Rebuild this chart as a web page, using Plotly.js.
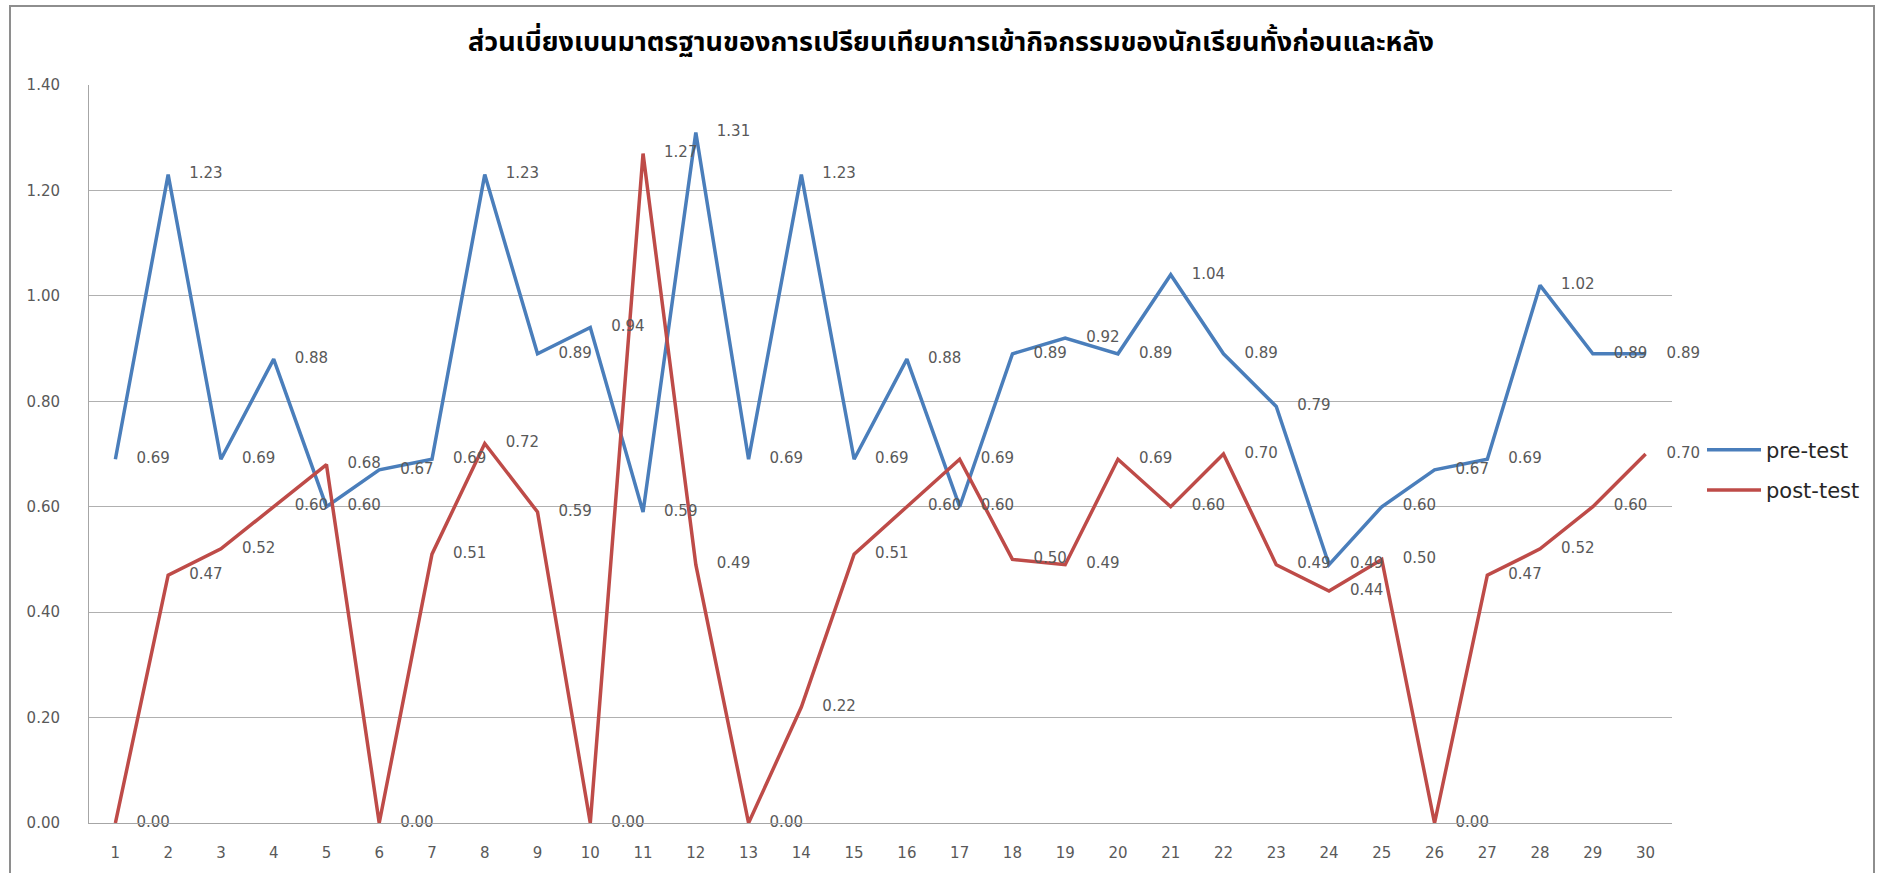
<!DOCTYPE html>
<html>
<head>
<meta charset="utf-8">
<script src="https://cdn.plot.ly/plotly-3.0.1.min.js"></script>
<style>
  html, body { margin: 0; padding: 0; background: #ffffff; overflow: hidden; }
  #chart { position: absolute; left: 0; top: 0; width: 1883px; height: 873px; }
  #frame { position: absolute; left: 9px; top: 5px; width: 1866px; height: 900px;
           border: 2px solid #8e8e8e; box-sizing: border-box; pointer-events: none; }
</style>
</head>
<body>
<div id="chart"></div>
<div id="frame"></div>
<script>
// ---- data ----
const chartTitle = "ส่วนเบี่ยงเบนมาตรฐานของการเปรียบเทียบการเข้ากิจกรรมของนักเรียนทั้งก่อนและหลัง";
const students = [1,2,3,4,5,6,7,8,9,10,11,12,13,14,15,16,17,18,19,20,21,22,23,24,25,26,27,28,29,30];
const preName = "pre-test";
const postName = "post-test";
const preTest = [0.69,1.23,0.69,0.88,0.60,0.67,0.69,1.23,0.89,0.94,
                 0.59,1.31,0.69,1.23,0.69,0.88,0.60,0.89,0.92,0.89,
                 1.04,0.89,0.79,0.49,0.60,0.67,0.69,1.02,0.89,0.89];
const postTest = [0.00,0.47,0.52,0.60,0.68,0.00,0.51,0.72,0.59,0.00,
                  1.27,0.49,0.00,0.22,0.51,0.60,0.69,0.50,0.49,0.69,
                  0.60,0.70,0.49,0.44,0.50,0.00,0.47,0.52,0.60,0.70];
const yTicks = [0,0.2,0.4,0.6,0.8,1.0,1.2,1.4];

// ---- styles ----
const blue = "#4A7EBB";
const red = "#BE4B48";
const labelFont = { family: "DejaVu Sans, Verdana, sans-serif", size: 15, color: "#595959" };

function lineTrace(name, y, color) {
  return {
    type: "scatter", mode: "lines", name: name, legendgroup: name,
    x: students, y: y,
    line: { color: color, width: 3.5 },
    hoverinfo: "skip"
  };
}
function labelTrace(y) {
  return {
    type: "scatter", mode: "markers+text", showlegend: false,
    x: students, y: y,
    marker: { size: 32, color: "rgba(0,0,0,0)", line: { width: 0 } },
    texttemplate: "%{y:.2f}",
    textposition: "middle right",
    textfont: labelFont,
    cliponaxis: false,
    hoverinfo: "skip"
  };
}

const data = [
  lineTrace(preName, preTest, blue),
  lineTrace(postName, postTest, red),
  labelTrace(preTest),
  labelTrace(postTest)
];

const layout = {
  width: 1883, height: 873,
  margin: { l: 89, r: 211, t: 85, b: 50 },
  paper_bgcolor: "#ffffff",
  plot_bgcolor: "#ffffff",
  showlegend: true,
  title: {
    text: "<b>" + chartTitle + "</b>",
    font: { family: "Tahoma, 'Noto Sans Thai', 'Noto Sans', sans-serif", size: 27, color: "#000000" },
    x: 951/1883, xanchor: "center", xref: "container",
    y: 1 - 42/873, yanchor: "middle", yref: "container"
  },
  xaxis: {
    type: "linear",
    range: [0.5, 30.5],
    tickvals: students,
    ticktext: students.map(String),
    showgrid: false,
    zeroline: false,
    showline: true, linecolor: "#a6a6a6", linewidth: 1,
    ticks: "",
    ticklabelstandoff: 16,
    tickfont: labelFont,
    fixedrange: true
  },
  yaxis: {
    range: [0, 1.4],
    tickvals: yTicks,
    tickformat: ".2f",
    showgrid: true, gridcolor: "#b0b0b0", gridwidth: 1,
    zeroline: false,
    showline: true, linecolor: "#a6a6a6", linewidth: 1,
    ticks: "",
    ticklabelstandoff: 25,
    tickfont: labelFont,
    fixedrange: true
  },
  legend: {
    x: (1702 - 89) / 1583, xanchor: "left", xref: "paper",
    y: 1 - (470 - 85) / 738, yanchor: "middle",
    font: { family: "DejaVu Sans, Verdana, sans-serif", size: 21, color: "#262626" },
    itemwidth: 54,
    tracegroupgap: 10,
    bgcolor: "rgba(0,0,0,0)"
  }
};

Plotly.newPlot("chart", data, layout, { displayModeBar: false, staticPlot: true });
</script>
</body>
</html>
